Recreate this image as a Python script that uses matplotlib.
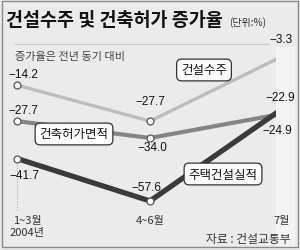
import matplotlib
matplotlib.use("Agg")
import matplotlib.pyplot as plt
from matplotlib.patches import Rectangle

plt.rcParams['font.family'] = ['Noto Sans CJK KR', 'DejaVu Sans']

periods = ["1~3월\n2004년", "4~6월", "7월"]
series_names = ["건설수주", "건축허가면적", "주택건설실적"]
orders = [-14.2, -27.7, -3.3]
permits = [-27.7, -34.0, -24.9]
housing = [-41.7, -57.6, -22.9]

W, H = 300, 251
fig = plt.figure(figsize=(W / 100, H / 100), dpi=100)
fig.patch.set_facecolor("#ebebeb")
ax = fig.add_axes([0, 0, 1, 1])
ax.set_facecolor("#ebebeb")
ax.set_xlim(-17 / 133, (300 - 17) / 133)
ax.set_ylim(-3.3 - 194 / 2.67, -3.3 + 57 / 2.67)
ax.axis("off")

def px(x, y):
    return x / W, 1 - y / H

# frame and lighter right stripe
fig.patches.append(Rectangle(px(276, 248), 19 / W, 200 / H, transform=fig.transFigure,
                             facecolor="#f3f3f3", edgecolor="none", zorder=0))
fig.patches.append(Rectangle(px(2, 248), 296 / W, 246 / H, transform=fig.transFigure,
                             facecolor="none", edgecolor="#8a8a8a", lw=1.0, zorder=5))
# separator line below title
fig.add_artist(plt.Line2D([15 / W, 268 / W], [1 - 45 / H, 1 - 45 / H], color="#c8c8c8", lw=0.8))

xs = [0, 1, 2]
# dotted guide lines
ax.plot([0, 0], [housing[0], -3.3 - 155 / 2.67], color="#aaaaaa", lw=0.8, ls=(0, (1, 1.5)), zorder=1)
ax.plot([2, 2], [orders[2], -3.3 - 155 / 2.67], color="#aaaaaa", lw=0.8, ls=(0, (1, 1.5)), zorder=1)

styles = [(orders, "#bdbdbd", 2.4), (permits, "#858585", 3.0), (housing, "#3a3a3a", 3.8)]
for vals, col, lw in styles:
    ax.plot(xs, vals, color=col, lw=lw, solid_capstyle="butt", zorder=2)
    ax.plot(xs, vals, ls="none", marker="o", ms=5, mfc="white", mec="#555555", mew=0.9, zorder=3)

num_fs = 8.5
def lab(v, x, y, ha="center"):
    fig.text(*px(x, y), f"\u2212{abs(v):.1f}", ha=ha, va="center", fontsize=num_fs,
             family=['Liberation Sans', 'DejaVu Sans'], color="#111111")

lab(orders[0], 23, 75)
lab(permits[0], 23, 111)
lab(housing[0], 24, 176)
lab(orders[1], 150, 102)
lab(permits[1], 152, 148)
lab(housing[1], 146, 188)
lab(orders[2], 281, 40)
lab(housing[2], 280, 98)
lab(permits[2], 277, 131)

# series label boxes
def box(text, cx, cy):
    fig.text(*px(cx, cy), text, ha="center", va="center", fontsize=9, color="#111111",
             bbox=dict(boxstyle="round,pad=0.35,rounding_size=0.4", fc="white", ec="#333333", lw=0.9))

box(series_names[0], 204, 71)
box(series_names[1], 74, 135)
box(series_names[2], 223, 175)

# title
fig.text(*px(6, 20), "건설수주 및 건축허가 증가율", ha="left", va="center", fontsize=13.3,
         fontweight="bold", color="#111111")
fig.text(*px(229, 23), "(단위:%)", ha="left", va="center", fontsize=7.2, color="#333333")
fig.text(*px(15, 57), "증가율은 전년 동기 대비", ha="left", va="center", fontsize=8, color="#444444")

# x labels
fig.text(*px(27, 227), periods[0], ha="center", va="center", fontsize=8, color="#333333",
         linespacing=1.15)
fig.text(*px(150, 221), periods[1], ha="center", va="center", fontsize=8, color="#333333")
fig.text(*px(282, 221), periods[2], ha="center", va="center", fontsize=8, color="#333333")

fig.text(*px(291, 240), "자료 : 건설교통부", ha="right", va="center", fontsize=8.5,
         style="italic", color="#333333")

fig.savefig("out.png", dpi=100, facecolor=fig.get_facecolor())
